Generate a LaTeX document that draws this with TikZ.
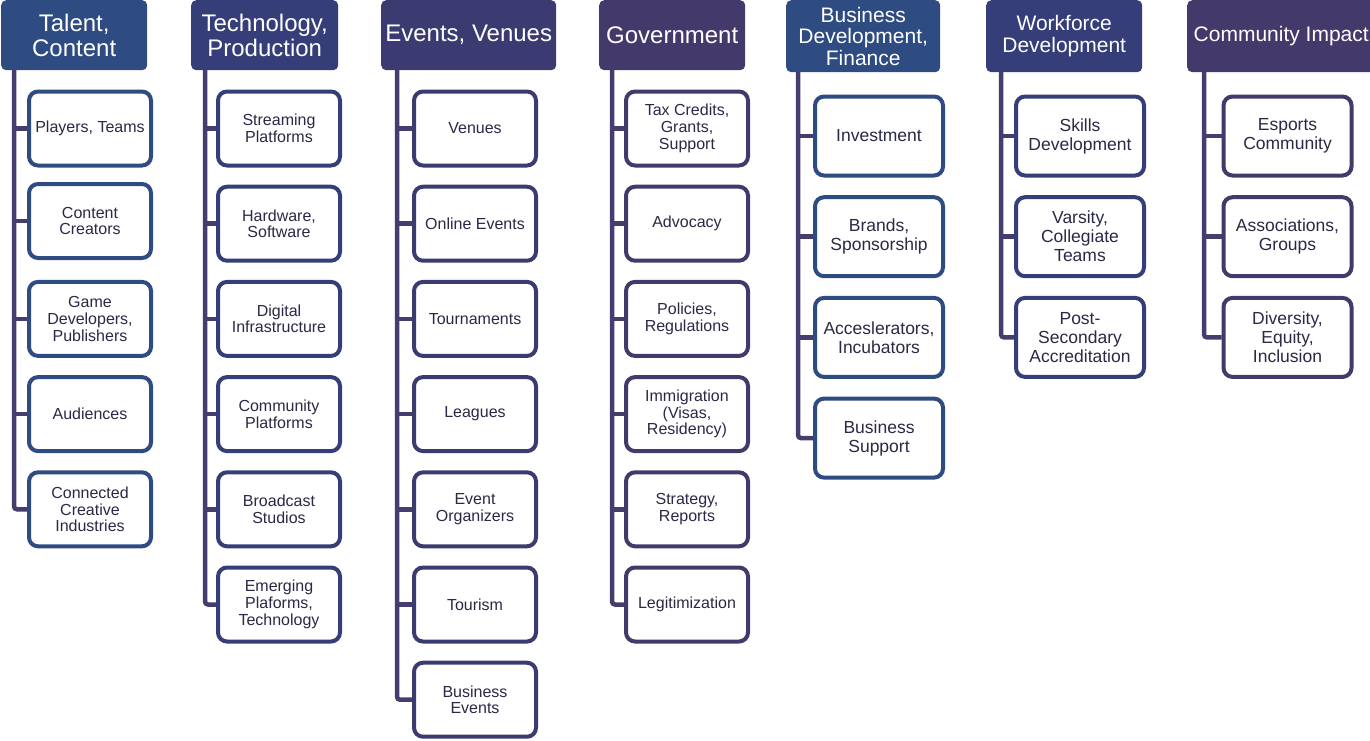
\documentclass[tikz,border=0pt]{standalone}
\usepackage{fontspec}
\setmainfont{Liberation Sans}
\definecolor{hA}{HTML}{2E4B82}
\definecolor{hB}{HTML}{353E78}
\definecolor{hC}{HTML}{3C3B71}
\definecolor{hD}{HTML}{433A6B}
\definecolor{lineC}{HTML}{463C6E}
\definecolor{txt}{HTML}{2A2946}
\tikzset{
  hdr/.style={fill=#1, draw=none, rounded corners=5pt, text=white, inner sep=0pt,
    anchor=north west, align=center, minimum height=70pt, font=\fontsize{24}{25}\selectfont},
  hdrs/.style={hdr=#1, minimum height=72pt, font=\fontsize{21}{21.5}\selectfont},
  item/.style={draw=#1, line width=4pt, fill=white, rounded corners=9pt, minimum width=122pt,
    minimum height=74pt, inner sep=0pt, align=center, text=txt, font=\fontsize{16}{16.7}\selectfont},
  itemL/.style={item=#1, minimum width=128pt, minimum height=79pt, font=\fontsize{17.5}{19}\selectfont},
  conn/.style={draw=lineC, line width=4.5pt, rounded corners=3pt}
}
\begin{document}
\begin{tikzpicture}[x=1pt,y=-1pt]
\useasboundingbox (0,0) rectangle (1370,740);
\clip (0,0) rectangle (1370,740);
% headers
\node[hdr=hA, minimum width=146pt] (h1) at (1,0) {Talent,\\Content};
\node[hdr=hB, minimum width=147pt] (h2) at (191,0) {Technology,\\Production};
\node[hdr=hC, minimum width=175pt] (h3) at (381,0) {Events, Venues};
\node[hdr=hD, minimum width=146pt] (h4) at (599,0) {Government};
\node[hdrs=hA, minimum width=154pt] (h5) at (786,0) {Business\\Development,\\Finance};
\node[hdrs=hB, minimum width=156pt] (h6) at (986,0) {Workforce\\Development};
\node[hdrs=hD, minimum width=188pt] (h7) at (1187,0) {Community Impact};
% column 1
\node[item=hA] (b11) at (90,128.5) {Players, Teams};
\node[item=hA] (b12) at (90,221) {Content\\Creators};
\node[item=hA] (b13) at (90,318.9) {Game\\Developers,\\Publishers};
\node[item=hA] (b14) at (90,414.1) {Audiences};
\node[item=hA] (b15) at (90,509.3) {Connected\\Creative\\Industries};
% column 2
\node[item=hB] (b21) at (279,128.5) {Streaming\\Platforms};
\node[item=hB] (b22) at (279,223.7) {Hardware,\\Software};
\node[item=hB] (b23) at (279,318.9) {Digital\\Infrastructure};
\node[item=hB] (b24) at (279,414.1) {Community\\Platforms};
\node[item=hB] (b25) at (279,509.3) {Broadcast\\Studios};
\node[item=hB] (b26) at (279,604.5) {Emerging\\Plaforms,\\Technology};
% column 3
\node[item=hC] (b31) at (475,128.5) {Venues};
\node[item=hC] (b32) at (475,223.7) {Online Events};
\node[item=hC] (b33) at (475,318.9) {Tournaments};
\node[item=hC] (b34) at (475,414.1) {Leagues};
\node[item=hC] (b35) at (475,509.3) {Event\\Organizers};
\node[item=hC] (b36) at (475,604.5) {Tourism};
\node[item=hC] (b37) at (475,699.7) {Business\\Events};
% column 4
\node[item=hD] (b41) at (687,128.5) {Tax Credits,\\Grants,\\Support};
\node[item=hD] (b42) at (687,223.7) {Advocacy};
\node[item=hD] (b43) at (687,318.9) {Policies,\\Regulations};
\node[item=hD] (b44) at (687,414.1) {Immigration\\(Visas,\\Residency)};
\node[item=hD] (b45) at (687,509.3) {Strategy,\\Reports};
\node[item=hD] (b46) at (687,604.5) {Legitimization};
% column 5
\node[itemL=hA] (b51) at (879,136) {Investment};
\node[itemL=hA] (b52) at (879,236.7) {Brands,\\Sponsorship};
\node[itemL=hA] (b53) at (879,337.4) {Acceslerators,\\Incubators};
\node[itemL=hA] (b54) at (879,438.1) {Business\\Support};
% column 6
\node[itemL=hB] (b61) at (1080,136) {Skills\\Development};
\node[itemL=hB] (b62) at (1080,236.7) {Varsity,\\Collegiate\\Teams};
\node[itemL=hB] (b63) at (1080,337.4) {Post-\\Secondary\\Accreditation};
% column 7
\node[itemL=hD] (b71) at (1287.5,136) {Esports\\Community};
\node[itemL=hD] (b72) at (1287.5,236.7) {Associations,\\Groups};
\node[itemL=hD] (b73) at (1287.5,337.4) {Diversity,\\Equity,\\Inclusion};
% trunk tops
\coordinate (t1) at (14,70);
\coordinate (t2) at (205,70);
\coordinate (t3) at (397,70);
\coordinate (t4) at (612,70);
\coordinate (t5) at (798,72);
\coordinate (t6) at (1001,72);
\coordinate (t7) at (1204,72);
% connectors
\draw[conn] (t1) |- (b15.west);
\foreach \b in {b11,b12,b13,b14} \draw[conn] (t1 |- \b.west) -- (\b.west);
\draw[conn] (t2) |- (b26.west);
\foreach \b in {b21,b22,b23,b24,b25} \draw[conn] (t2 |- \b.west) -- (\b.west);
\draw[conn] (t3) |- (b37.west);
\foreach \b in {b31,b32,b33,b34,b35,b36} \draw[conn] (t3 |- \b.west) -- (\b.west);
\draw[conn] (t4) |- (b46.west);
\foreach \b in {b41,b42,b43,b44,b45} \draw[conn] (t4 |- \b.west) -- (\b.west);
\draw[conn] (t5) |- (b54.west);
\foreach \b in {b51,b52,b53} \draw[conn] (t5 |- \b.west) -- (\b.west);
\draw[conn] (t6) |- (b63.west);
\foreach \b in {b61,b62} \draw[conn] (t6 |- \b.west) -- (\b.west);
\draw[conn] (t7) |- (b73.west);
\foreach \b in {b71,b72} \draw[conn] (t7 |- \b.west) -- (\b.west);
\end{tikzpicture}
\end{document}
